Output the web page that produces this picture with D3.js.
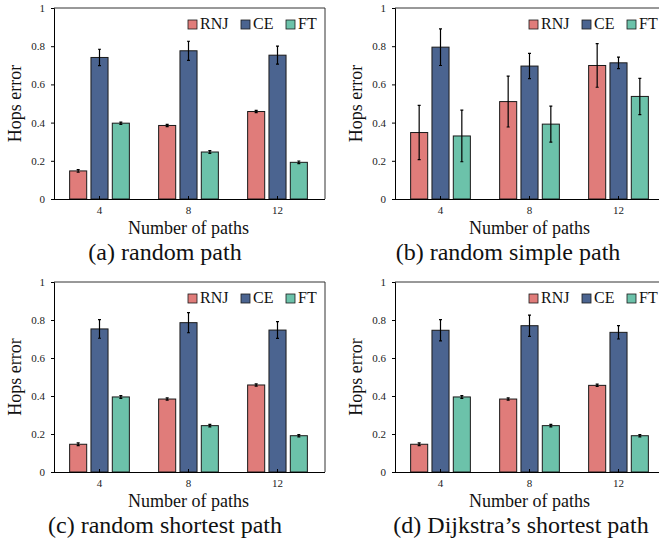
<!DOCTYPE html>
<html>
<head>
<meta charset="utf-8">
<script src="https://cdn.jsdelivr.net/npm/d3@7"></script>
<style>
  body { margin: 0; background: #fff; }
  svg { display: block; font-family: "Liberation Serif", "Times New Roman", serif; }
</style>
</head>
<body>
<div id="chart"></div>
<script>
// Categories and series
const categories = ['4', '8', '12'];
const seriesNames = ['RNJ', 'CE', 'FT'];
const seriesColors = ['#e07c7a', '#4b6490', '#6cc2aa'];
const yTicks = [0, 0.2, 0.4, 0.6, 0.8, 1];

// (a) random path
const randomMean = [[0.147, 0.385, 0.458], [0.741, 0.776, 0.753], [0.397, 0.246, 0.192]];
const randomErr = [[0.007, 0.006, 0.006], [0.043, 0.05, 0.047], [0.006, 0.007, 0.007]];
// (b) random simple path
const simpleMean = [[0.348, 0.510, 0.699], [0.795, 0.696, 0.713], [0.330, 0.392, 0.537]];
const simpleErr = [[0.142, 0.133, 0.114], [0.096, 0.066, 0.03], [0.135, 0.094, 0.095]];
// (c) random shortest path
const shortestMean = [[0.146, 0.384, 0.458], [0.753, 0.786, 0.747], [0.395, 0.244, 0.191]];
const shortestErr = [[0.007, 0.006, 0.006], [0.049, 0.053, 0.044], [0.007, 0.007, 0.006]];
// (d) Dijkstra's shortest path
const dijkstraMean = [[0.146, 0.384, 0.456], [0.746, 0.770, 0.735], [0.395, 0.244, 0.191]];
const dijkstraErr = [[0.007, 0.006, 0.006], [0.056, 0.056, 0.035], [0.007, 0.007, 0.006]];

const captions = ['(a) random path', '(b) random simple path', '(c) random shortest path', '(d) Dijkstra\u2019s shortest path'];

const panels = [
  { mean: randomMean, err: randomErr, left: 54, top: 8, bottom: 199, capX: 165 },
  { mean: simpleMean, err: simpleErr, left: 395, top: 8, bottom: 199, capX: 508 },
  { mean: shortestMean, err: shortestErr, left: 54, top: 282, bottom: 472, capX: 165 },
  { mean: dijkstraMean, err: dijkstraErr, left: 395, top: 282, bottom: 472, capX: 521 }
];

const svg = d3.select('#chart').append('svg')
  .attr('width', 659)
  .attr('height', 548);

panels.forEach((p, pi) => {
  const plotW = 271;
  const g = svg.append('g');

  const x = d3.scaleBand().domain(categories).range([p.left + 1, p.left + plotW - 3]);
  const xs = d3.scaleBand().domain(seriesNames).range([-32, 32]).paddingInner(0.2).paddingOuter(0.1);
  const y = d3.scaleLinear().domain([0, 1]).range([p.bottom, p.top]);

  // frame (top and right)
  g.append('path')
    .attr('d', `M${p.left},${p.top}H${p.left + plotW}V${p.bottom}`)
    .attr('fill', 'none')
    .attr('stroke', '#333')
    .attr('stroke-width', 1);

  // bars
  seriesNames.forEach((s, si) => {
    const rows = categories.map((c, ci) => ({ c, v: p.mean[si][ci], e: p.err[si][ci] }));
    const bars = g.append('g');
    bars.selectAll('rect')
      .data(rows)
      .join('rect')
      .attr('x', d => x(d.c) + x.bandwidth() / 2 + xs(s))
      .attr('y', d => y(d.v))
      .attr('width', xs.bandwidth())
      .attr('height', d => y(0) - y(d.v))
      .attr('fill', seriesColors[si])
      .attr('stroke', '#1a1a1a')
      .attr('stroke-width', 1);

    // error bars
    const cx = d => x(d.c) + x.bandwidth() / 2 + xs(s) + xs.bandwidth() / 2;
    bars.selectAll('path.err')
      .data(rows)
      .join('path')
      .attr('class', 'err')
      .attr('d', d => `M${cx(d)},${y(d.v + d.e)}V${y(d.v - d.e)}` +
        `M${cx(d) - 1.5},${y(d.v + d.e)}h3M${cx(d) - 1.5},${y(d.v - d.e)}h3`)
      .attr('stroke', '#000')
      .attr('stroke-width', 1.2)
      .attr('fill', 'none');
  });

  // y axis
  const yAxis = g.append('g')
    .attr('transform', `translate(${p.left},0)`)
    .call(d3.axisLeft(y).tickValues(yTicks).tickSize(3).tickPadding(6)
      .tickFormat(d => d === 0 ? '0' : d === 1 ? '1' : d3.format('.1f')(d)));
  yAxis.select('.domain').attr('stroke', '#000');
  yAxis.selectAll('.tick line').attr('stroke', '#000');
  yAxis.selectAll('text')
    .attr('font-family', '"Liberation Serif", serif')
    .attr('font-size', 11)
    .attr('fill', '#222');

  // x axis
  const xAxis = g.append('g')
    .attr('transform', `translate(0,${p.bottom})`)
    .call(d3.axisBottom(x).tickSize(-3).tickPadding(7));
  xAxis.select('.domain').attr('d', `M${p.left},0.5H${p.left + plotW}`).attr('stroke', '#000');
  xAxis.selectAll('.tick line').attr('stroke', '#000');
  xAxis.selectAll('text')
    .attr('font-family', '"Liberation Serif", serif')
    .attr('font-size', 11)
    .attr('fill', '#222');

  // legend
  const legendOffsets = [134, 187, 232];
  const legend = g.append('g');
  seriesNames.forEach((s, si) => {
    const lx = p.left + legendOffsets[si];
    legend.append('rect')
      .attr('x', lx).attr('y', p.top + 12)
      .attr('width', 9).attr('height', 9)
      .attr('fill', seriesColors[si])
      .attr('stroke', '#1a1a1a')
      .attr('stroke-width', 0.8);
    legend.append('text')
      .attr('x', lx + 12).attr('y', p.top + 20.5)
      .attr('font-size', 16)
      .attr('fill', '#111')
      .text(s);
  });

  // axis titles
  g.append('text')
    .attr('transform', `translate(${p.left - 33},${(p.top + p.bottom) / 2}) rotate(-90)`)
    .attr('text-anchor', 'middle')
    .attr('font-size', 18)
    .attr('fill', '#111')
    .text('Hops error');

  g.append('text')
    .attr('x', p.left + plotW / 2 - 1)
    .attr('y', p.bottom + 35)
    .attr('text-anchor', 'middle')
    .attr('font-size', 18)
    .attr('fill', '#111')
    .text('Number of paths');

  // caption
  g.append('text')
    .attr('x', p.capX)
    .attr('y', p.bottom + 61)
    .attr('text-anchor', 'middle')
    .attr('font-size', 24)
    .attr('fill', '#111')
    .text(captions[pi]);
});
</script>
</body>
</html>
